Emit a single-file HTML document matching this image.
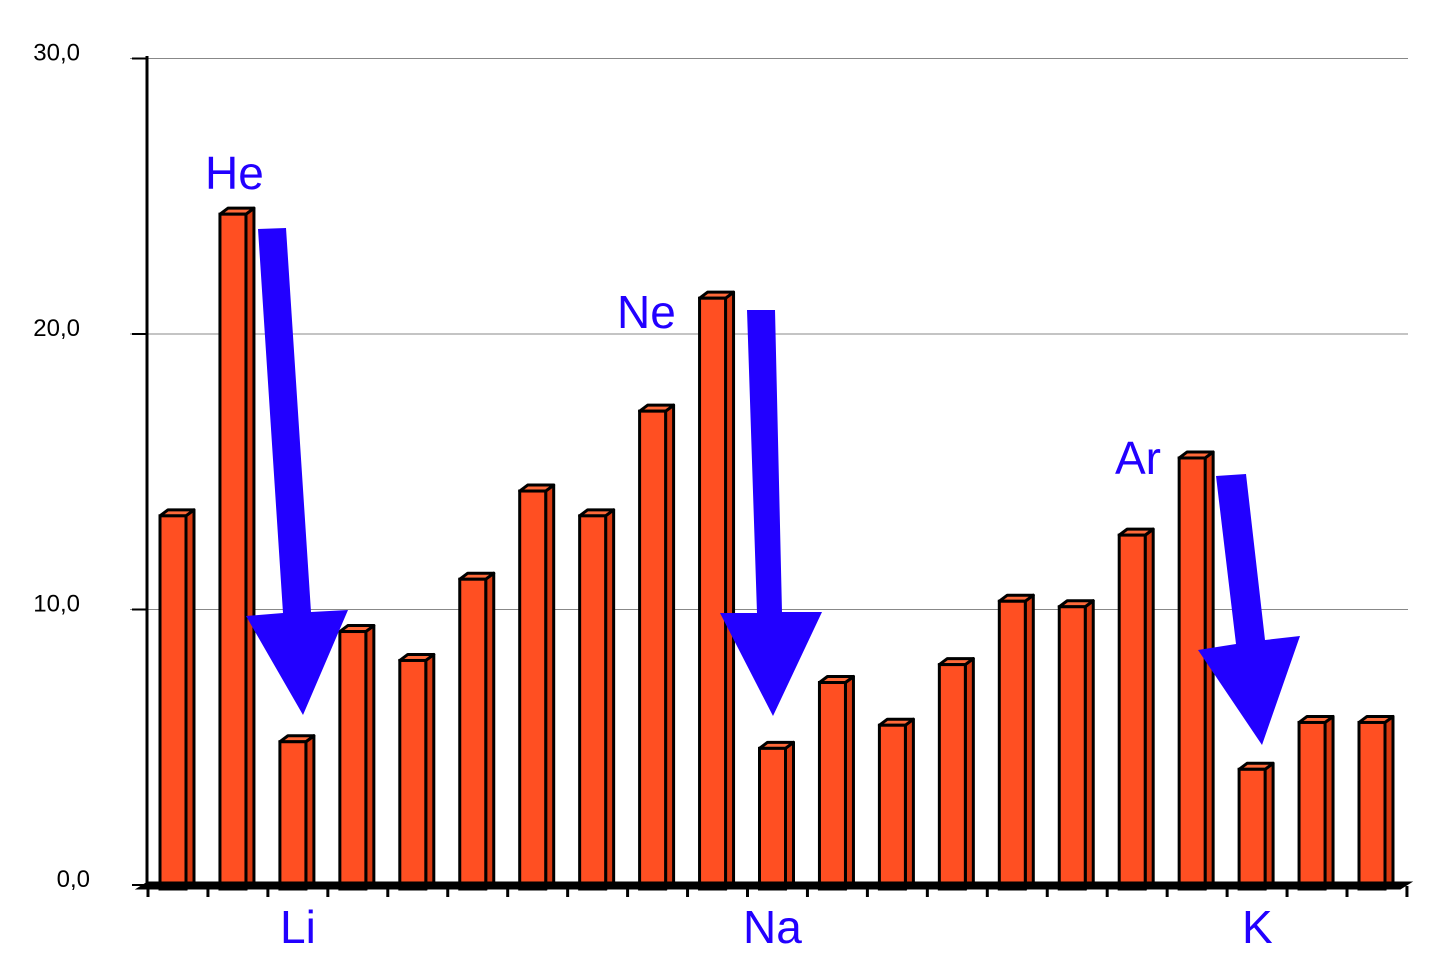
<!DOCTYPE html>
<html><head><meta charset="utf-8"><style>
body{margin:0;background:#fff}
svg{display:block;font-family:"Liberation Sans",sans-serif}
</style></head><body>
<svg id="chart" width="1443" height="959" viewBox="0 0 1443 959" xmlns="http://www.w3.org/2000/svg">
<g id="grid"></g>
<g id="bars"></g>
<g id="axes"></g>
<g fill="#2200ff">
<polygon points="258,229 286,228 311,612 348,610 303,715 246,616 283,613"/>
<polygon points="747,310 775,310 782,612 822,612 773,716 720,613 757,613"/>
<polygon points="1216,476 1246,474 1265,640 1300,636 1262,745 1198,650 1236,644"/>
</g>
<g fill="#2200ff" font-size="46">
<text x="205" y="189">He</text>
<text x="617" y="328">Ne</text>
<text x="1115" y="474">Ar</text>
<text x="280" y="943">Li</text>
<text x="743" y="943">Na</text>
<text x="1242" y="943">K</text>
</g>
</svg>
<script>
const categories=["H","He","Li","Be","B","C","N","O","F","Ne","Na","Mg","Al","Si","P","S","Cl","Ar","K","Ca","Sc"];
const values=[13.4,24.35,5.2,9.2,8.15,11.1,14.3,13.4,17.2,21.3,4.96,7.35,5.8,8.0,10.3,10.1,12.7,15.5,4.2,5.9,5.9];
const yTicks=[0,10,20,30];
const yTickLabels=["0,0","10,0","20,0","30,0"];
const NS="http://www.w3.org/2000/svg";
const x0=148,step=59.95,y0=885,yScale=27.55;
const y=v=>y0-v*yScale;
const x=i=>x0+i*step;
function mk(tag,attrs,parent){const e=document.createElementNS(NS,tag);for(const k in attrs)e.setAttribute(k,attrs[k]);parent.appendChild(e);return e;}
const grid=document.getElementById('grid'),bars=document.getElementById('bars'),axes=document.getElementById('axes');
yTicks.forEach((t,i)=>{
  if(t>0){const l=mk('line',{x1:130,x2:1408,y1:y(t),y2:y(t),stroke:'#888','stroke-width':1},grid);
  
  }
  const tx=mk('text',{x:t===0?90:80,y:y(t)+2,'text-anchor':'end','font-size':24,fill:'#000'},axes);
  tx.textContent=yTickLabels[i];
  
  
  const tk=mk('line',{x1:132,x2:147,y1:y(t),y2:y(t),stroke:'#000','stroke-width':2},axes);
  
  
});
const dx=8,dy=6,bw=26;
values.forEach((v,i)=>{
  const bx=x(i)+12,top=y(v),bot=y0+4;
  const g=mk('g',{},bars);
  
  
  mk('polygon',{points:`${bx+bw},${top} ${bx+bw+dx},${top-dy} ${bx+bw+dx},${bot-dy} ${bx+bw},${bot}`,fill:'#d83a10',stroke:'#000','stroke-width':3,'stroke-linejoin':'round'},g);
  mk('polygon',{points:`${bx},${top} ${bx+dx},${top-dy} ${bx+bw+dx},${top-dy} ${bx+bw},${top}`,fill:'#ff6a3a',stroke:'#000','stroke-width':3,'stroke-linejoin':'round'},g);
  mk('rect',{x:bx,y:top,width:bw,height:bot-top,fill:'#ff4f22',stroke:'#000','stroke-width':3},g);
});
const ax=mk('line',{x1:147,x2:147,y1:56,y2:888,stroke:'#000','stroke-width':3},axes);


const bx2=mk('polygon',{points:'140,888 148,883 1408,883 1400,888',fill:'#000',stroke:'#000','stroke-width':3},axes);


for(let i=0;i<=categories.length;i++){
  const tk=mk('line',{x1:x(i),x2:x(i),y1:886,y2:897,stroke:'#000','stroke-width':3},axes);
  
  
}
</script>
</body></html>
